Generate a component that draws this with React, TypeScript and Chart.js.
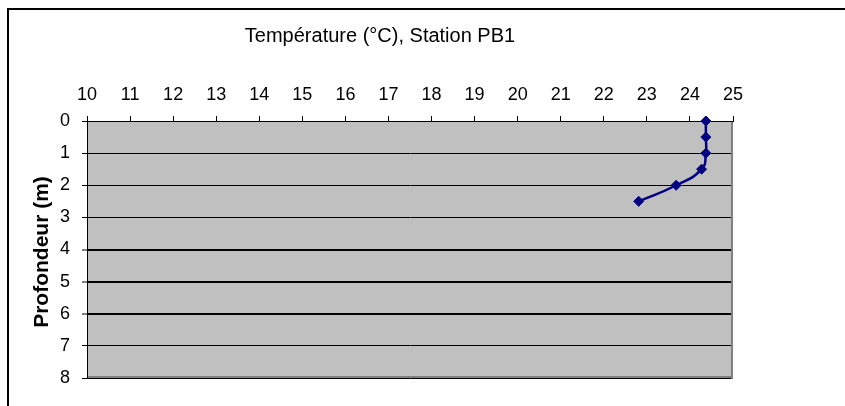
import React, { useEffect, useRef } from "react";
import { Chart, registerables } from "chart.js";

Chart.register(...registerables);

const TITLE = "Température (°C), Station PB1";
const Y_TITLE = "Profondeur (m)";
const temperatures = [24.37, 24.37, 24.37, 24.27, 23.68, 22.81];
const depths = [0, 0.5, 1, 1.5, 2, 2.5];
const X_MIN = 10;
const X_MAX = 25;
const Y_MIN = 0;
const Y_MAX = 8;
const THICK_GRID = [4, 5, 6];

const FONT = "'Liberation Sans', Arial, sans-serif";

export default function App() {
  const ref = useRef<HTMLCanvasElement | null>(null);

  useEffect(() => {
    const canvas = ref.current;
    if (!canvas) return;

    const decor = {
      id: "decor",
      beforeDraw(chart: any) {
        const { ctx, chartArea } = chart;
        ctx.save();
        ctx.fillStyle = "#ffffff";
        ctx.fillRect(0, 0, chart.width, chart.height);
        ctx.fillStyle = "#C0C0C0";
        ctx.fillRect(chartArea.left, chartArea.top, chartArea.right - chartArea.left, chartArea.bottom - chartArea.top);
        ctx.restore();
      },
      beforeDatasetsDraw(chart: any) {
        const { ctx, chartArea } = chart;
        ctx.save();
        ctx.fillStyle = "#808080";
        ctx.fillRect(chartArea.right - 2, chartArea.top + 1, 2, chartArea.bottom - chartArea.top);
        ctx.fillRect(chartArea.left + 1, chartArea.bottom - 2, chartArea.right - chartArea.left - 1, 2);
        ctx.restore();
      },
      afterDraw(chart: any) {
        const { ctx } = chart;
        ctx.save();
        // outer frame
        ctx.strokeStyle = "#000000";
        ctx.lineWidth = 2;
        ctx.strokeRect(8, 9, 1000, 600);
        // title
        ctx.fillStyle = "#000000";
        ctx.font = `20px ${FONT}`;
        ctx.textAlign = "center";
        ctx.textBaseline = "middle";
        ctx.fillText(TITLE, 380, 36);
        // y title
        ctx.translate(42, 252);
        ctx.rotate(-Math.PI / 2);
        ctx.font = `bold 21px ${FONT}`;
        ctx.fillText(Y_TITLE, 0, 0);
        ctx.restore();
      },
    };

    const chart = new Chart(canvas, {
      type: "line",
      data: {
        datasets: [
          {
            data: temperatures.map((t, i) => ({ x: t, y: depths[i] })),
            borderColor: "#000080",
            backgroundColor: "#000080",
            borderWidth: 2.5,
            pointStyle: "rectRot",
            pointRadius: 5,
            pointBorderWidth: 1,
            pointBorderColor: "#000080",
            pointBackgroundColor: "#000080",
            tension: 0.5,
            fill: false,
            clip: false as any,
          },
        ],
      },
      options: {
        responsive: false,
        animation: false,
        devicePixelRatio: 1,
        layout: { padding: { left: 0, top: 0, right: 112, bottom: 28 } },
        plugins: {
          legend: { display: false },
          title: { display: false },
          tooltip: { enabled: false },
        },
        scales: {
          x: {
            type: "linear",
            position: "top",
            min: X_MIN,
            max: X_MAX,
            ticks: {
              stepSize: 1,
              color: "#000000",
              font: { family: FONT, size: 18 },
              padding: 10,
              maxRotation: 0,
              autoSkip: false,
            },
            grid: {
              drawOnChartArea: false,
              drawTicks: true,
              tickLength: 5,
              tickColor: "#000000",
              tickWidth: 1,
            },
            border: { display: true, color: "#000000", width: 1 },
            afterFit(scale: any) {
              scale.height = 121;
            },
          },
          y: {
            type: "linear",
            reverse: true,
            min: Y_MIN,
            max: Y_MAX,
            ticks: {
              stepSize: 1,
              color: "#000000",
              font: { family: FONT, size: 18 },
              padding: 12,
              autoSkip: false,
            },
            grid: {
              drawOnChartArea: true,
              color: "#000000",
              lineWidth: (c: any) => (c.tick && THICK_GRID.includes(c.tick.value) ? 2 : 1),
              drawTicks: true,
              tickLength: 5,
              tickColor: "#000000",
              tickWidth: 1,
            },
            border: { display: true, color: "#000000", width: 1 },
            afterFit(scale: any) {
              scale.width = 87;
            },
          },
        },
      },
      plugins: [decor],
    } as any);

    return () => chart.destroy();
  }, []);

  return (
    <div style={{ position: "fixed", left: 0, top: 0, width: 845, height: 406, overflow: "hidden", background: "#fff" }}>
      <canvas ref={ref} width={845} height={406} style={{ display: "block", width: 845, height: 406 }} />
    </div>
  );
}
